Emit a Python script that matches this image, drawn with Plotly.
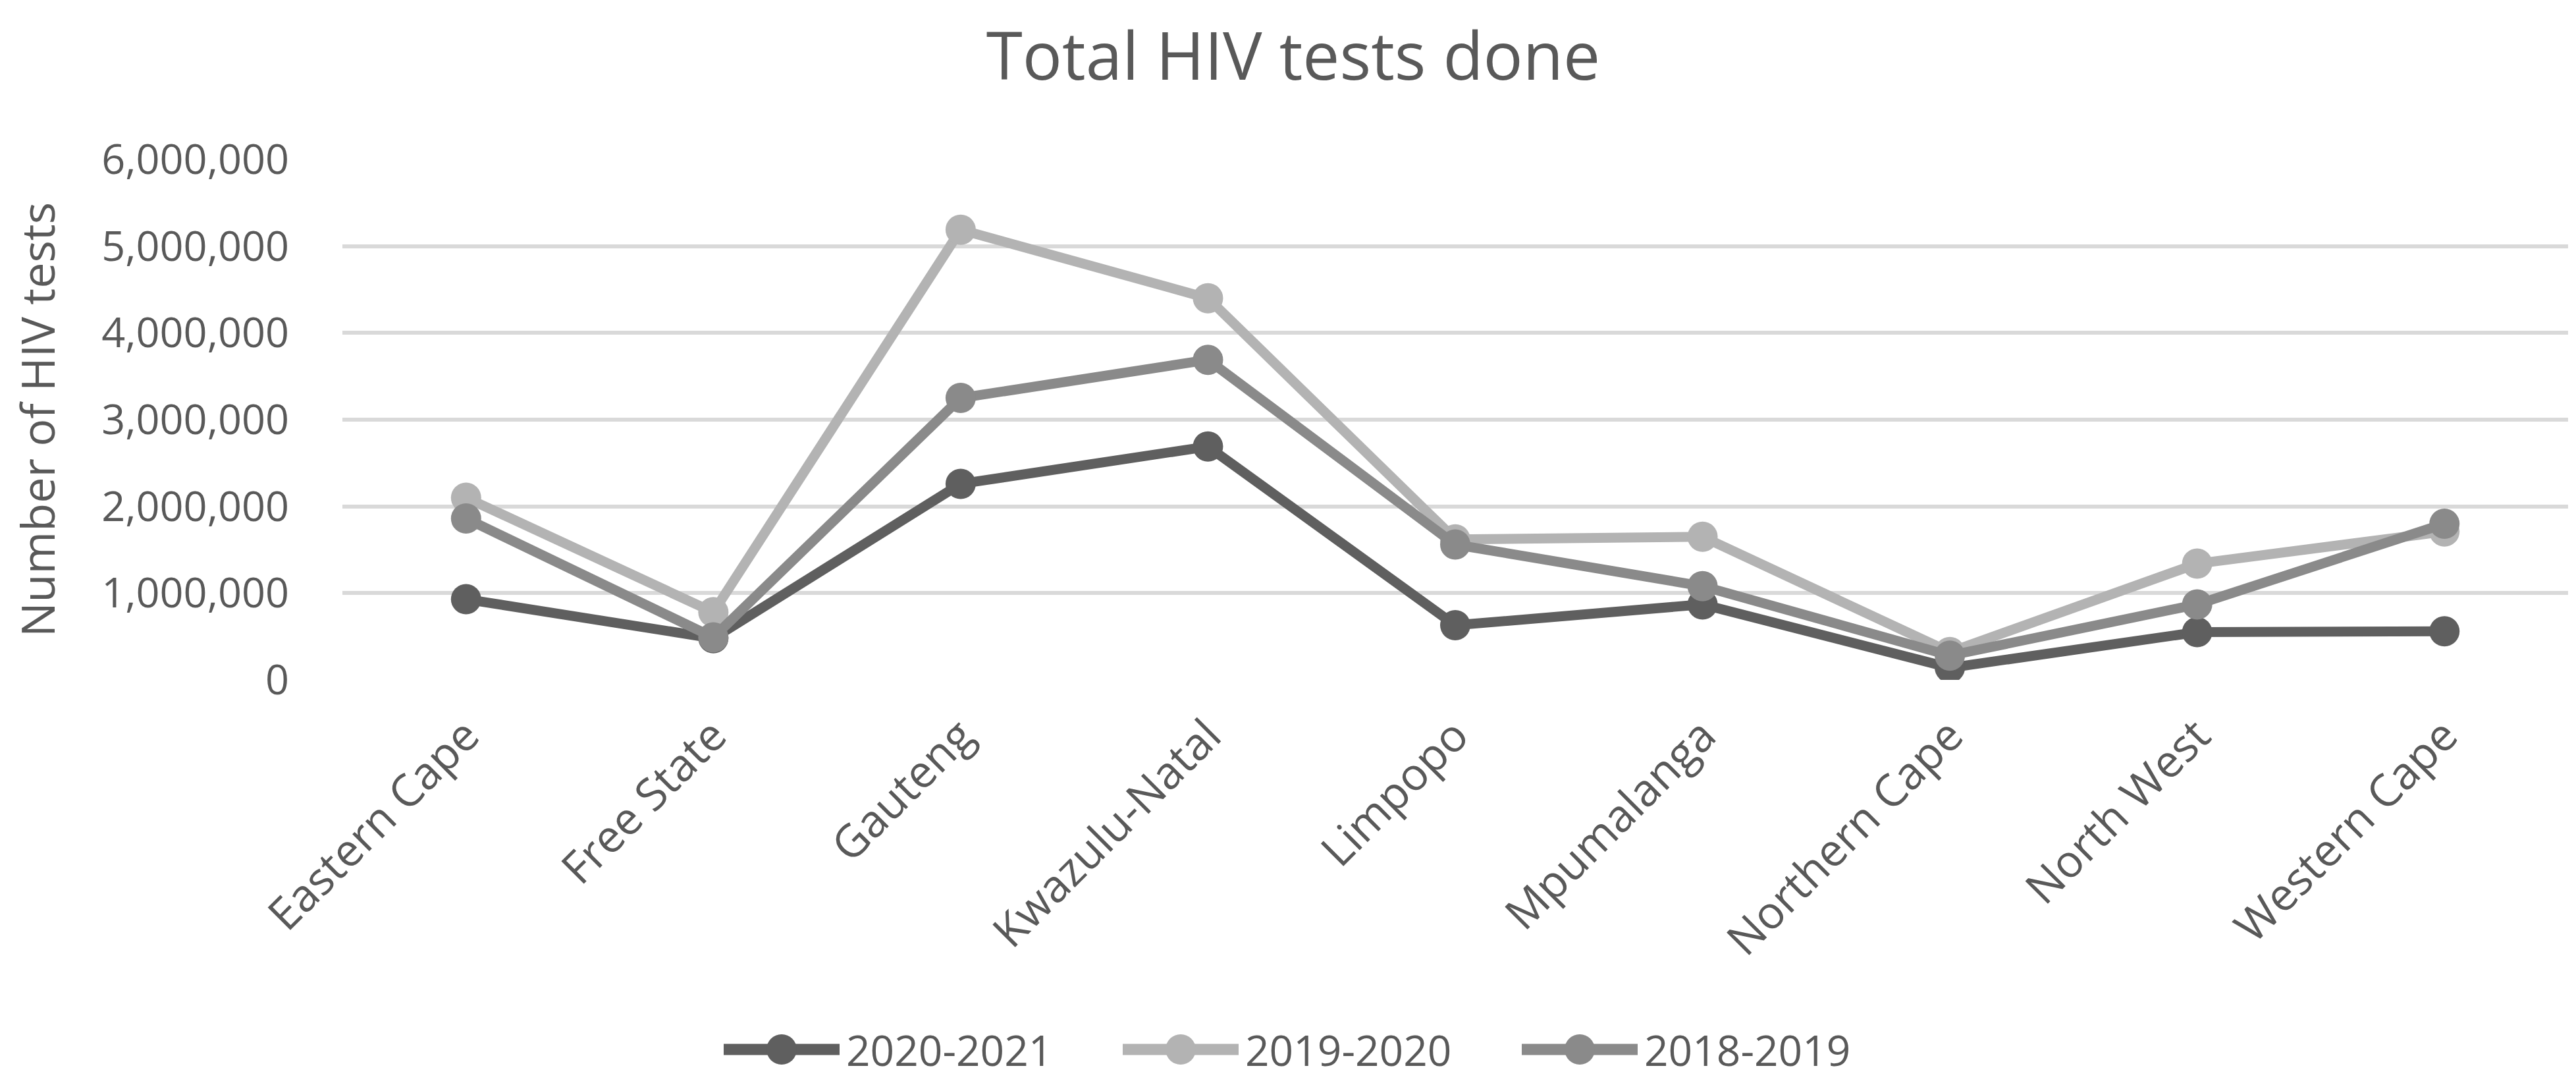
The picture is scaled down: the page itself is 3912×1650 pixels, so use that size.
import plotly.graph_objects as go

provinces = ["Eastern Cape", "Free State", "Gauteng", "Kwazulu-Natal", "Limpopo",
             "Mpumalanga", "Northern Cape", "North West", "Western Cape"]
tests_2020_2021 = [930000, 480000, 2260000, 2690000, 630000, 870000, 140000, 550000, 560000]
tests_2019_2020 = [2100000, 780000, 5190000, 4400000, 1620000, 1650000, 320000, 1340000, 1710000]
tests_2018_2019 = [1860000, 490000, 3250000, 3690000, 1560000, 1080000, 280000, 870000, 1800000]
series_names = ["2020-2021", "2019-2020", "2018-2019"]
series_colors = ["#5f5f5f", "#b3b3b3", "#8a8a8a"]
y_ticks = [0, 1000000, 2000000, 3000000, 4000000, 5000000, 6000000]

FONT = "Open Sans, Lato, DejaVu Sans, sans-serif"
TXT = "#595959"
W, H = 3912, 1650
ML, MR, MT, MB = 512, 20, 234, 626
PW, PH = W - ML - MR, H - MT - MB

fig = go.Figure()
for name, vals, col in zip(series_names, [tests_2020_2021, tests_2019_2020, tests_2018_2019], series_colors):
    fig.add_trace(go.Scatter(
        x=provinces, y=vals, name=name, mode="lines+markers",
        line=dict(color=col, width=15),
        marker=dict(color=col, size=46, line=dict(width=0)),
        showlegend=False,
    ))

# custom legend (Excel-style: long thick line with a marker in the middle)
def px_to_paper_x(px):
    return (px - ML) / PW

def px_to_paper_y(py):
    return (H - MB - py) / PH

leg_y = px_to_paper_y(1585)
leg_start, leg_step, sym_len = 1091, 606, 176
for i, (name, col) in enumerate(zip(series_names, series_colors)):
    x0 = leg_start + i * leg_step
    xc = px_to_paper_x(x0 + sym_len / 2)
    fig.add_shape(type="line", xref="paper", yref="paper",
                  xsizemode="pixel", xanchor=xc, x0=-sym_len / 2, x1=sym_len / 2,
                  y0=leg_y, y1=leg_y, line=dict(color=col, width=17))
    fig.add_shape(type="circle", xref="paper", yref="paper",
                  xsizemode="pixel", ysizemode="pixel", xanchor=xc, yanchor=leg_y,
                  x0=-23, x1=23, y0=-23, y1=23,
                  fillcolor=col, line=dict(width=0))
    fig.add_annotation(text=name, xref="paper", yref="paper",
                       x=px_to_paper_x(x0 + sym_len + 8), y=leg_y,
                       xanchor="left", yanchor="middle", showarrow=False,
                       font=dict(size=64, color=TXT, family=FONT))

fig.update_layout(
    width=W, height=H,
    paper_bgcolor="white", plot_bgcolor="white",
    margin=dict(l=ML, r=MR, t=MT, b=MB),
    font=dict(family=FONT, color=TXT, size=64),
    title=dict(text="Total HIV tests done", x=0.5, xref="container", xanchor="center",
               y=1 - 78 / 1650, yref="container", yanchor="middle",
               font=dict(size=100, color=TXT, family=FONT)),
    showlegend=False,
)
fig.update_yaxes(range=[0, 6000000], tickvals=y_ticks, tickformat=",d",
                 showgrid=True, gridcolor="#d9d9d9", gridwidth=6,
                 zeroline=False, showline=False, ticks="",
                 ticklabelstandoff=80,
                 tickfont=dict(size=63, color=TXT),
                 title=dict(text="Number of HIV tests", font=dict(size=70, color=TXT), standoff=70))
fig.update_xaxes(showgrid=False, showline=False, zeroline=False, ticks="",
                 tickangle=-45, tickfont=dict(size=68, color=TXT),
                 ticklabelstandoff=30, range=[-0.5, 8.5])

fig.write_html("out.html")
